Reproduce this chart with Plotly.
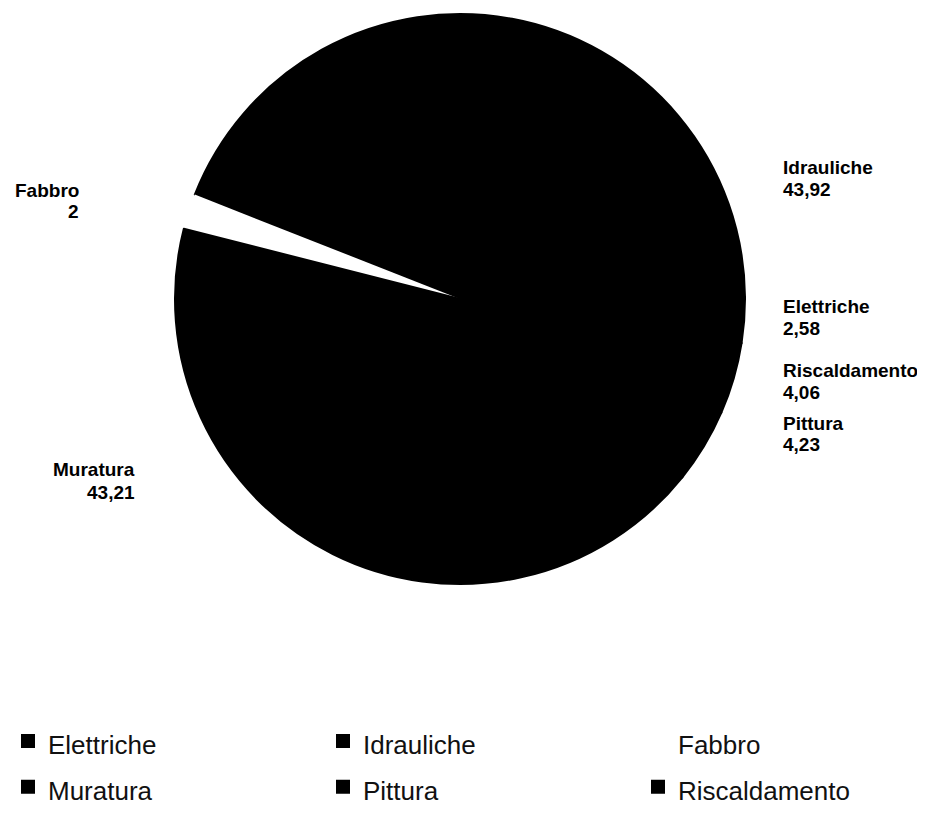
import plotly.graph_objects as go

# ---- data ----
categories = ["Elettriche", "Idrauliche", "Fabbro", "Muratura", "Pittura", "Riscaldamento"]
values = [2.58, 43.92, 2, 43.21, 4.23, 4.06]
slice_colors = ["#000000", "#000000", "#ffffff", "#000000", "#000000", "#000000"]
edge_widths = [2, 2, 0, 2, 2, 2]

# label placement in screen pixels: x, name-line center y, value-line center y, anchor side
label_pos = {
    "Idrauliche": (781, 167, 189, "left"),
    "Elettriche": (781, 306, 328, "left"),
    "Riscaldamento": (781, 370, 392, "left"),
    "Pittura": (781, 423, 445, "left"),
    "Fabbro": (81, 190, 211, "right"),
    "Muratura": (137, 469, 492, "right"),
}

W, H = 945, 805   # figure size; the page body adds an 8px margin
OFF = 8


def px(xs):
    return (xs - OFF) / W


def py(ys):
    return 1 - (ys - OFF) / H


def fmt(v):
    return ("%g" % v).replace(".", ",")


fig = go.Figure()
fig.add_trace(go.Pie(
    labels=[f"<span style='font-size:26px'>{c}</span>" for c in categories],
    values=values,
    sort=False,
    direction="counterclockwise",
    rotation=89.6,
    marker=dict(colors=slice_colors, line=dict(width=edge_widths, color=slice_colors)),
    textinfo="none",
    hoverinfo="none",
    domain=dict(x=[px(175), px(745)], y=[py(584), py(14)]),
))

lab_font = dict(family="Liberation Sans, Arial, sans-serif", size=19, color="#000000", weight="bold")
annotations = []
for c, v in zip(categories, values):
    x, y1, y2, side = label_pos[c]
    for txt, yy in ((c, y1), (fmt(v), y2)):
        annotations.append(dict(
            x=px(x), y=py(yy), xref="paper", yref="paper",
            text=txt, showarrow=False,
            xanchor=side, yanchor="middle", align=side,
            font=lab_font,
        ))

fig.update_layout(
    width=W, height=H,
    margin=dict(l=0, r=0, t=0, b=0, autoexpand=False),
    paper_bgcolor="white",
    plot_bgcolor="white",
    annotations=annotations,
    showlegend=True,
    legend=dict(
        orientation="h",
        x=0, xanchor="left",
        y=py(713), yanchor="top",
        entrywidth=270, entrywidthmode="pixels",
        font=dict(family="Liberation Sans, Arial, sans-serif", size=33, color="#111111"),
        traceorder="normal",
    ),
)

fig.write_html("out.html")
